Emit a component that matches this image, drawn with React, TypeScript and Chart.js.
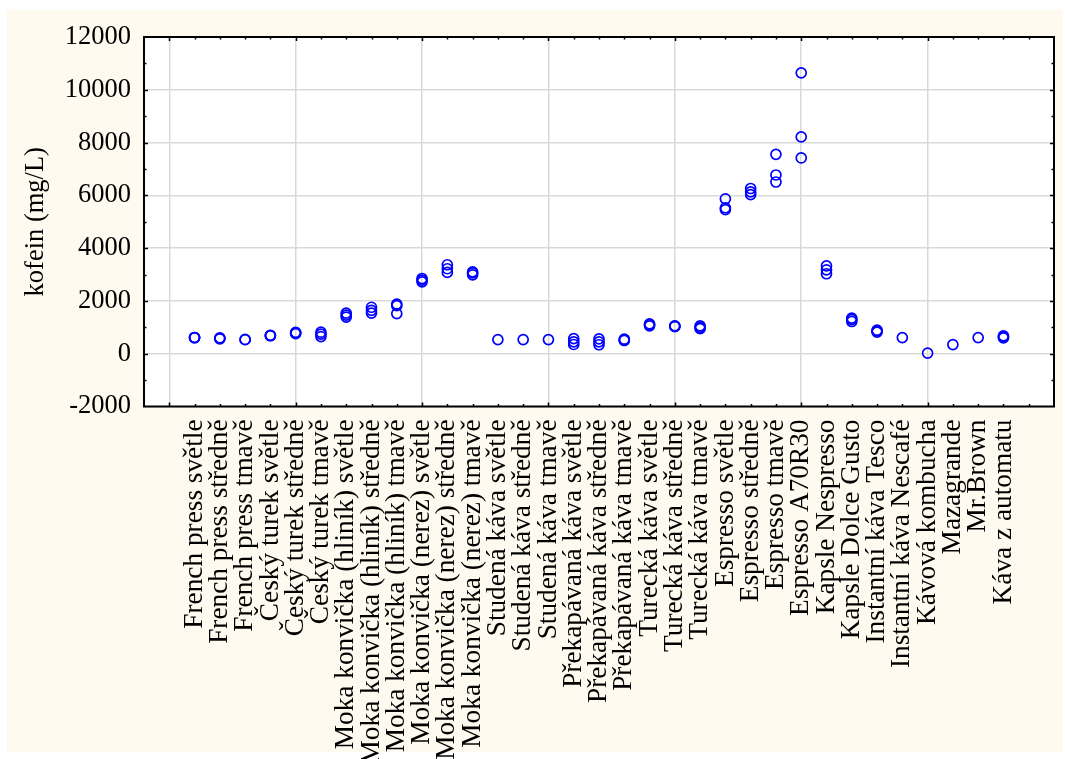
import React, { useEffect, useRef } from "react";
import { Chart, registerables } from "chart.js";

Chart.register(...registerables);

const categories: string[] = [
  "French press světle",
  "French press středně",
  "French press tmavě",
  "Český turek světle",
  "Český turek středně",
  "Český turek tmavě",
  "Moka konvička (hliník) světle",
  "Moka konvička (hliník) středně",
  "Moka konvička (hliník) tmavě",
  "Moka konvička (nerez) světle",
  "Moka konvička (nerez) středně",
  "Moka konvička (nerez) tmavě",
  "Studená káva světle",
  "Studená káva středně",
  "Studená káva tmavě",
  "Překapávaná káva světle",
  "Překapávaná káva středně",
  "Překapávaná káva tmavě",
  "Turecká káva světle",
  "Turecká káva středně",
  "Turecká káva tmavě",
  "Espresso světle",
  "Espresso středně",
  "Espresso tmavě",
  "Espresso A70R30",
  "Kapsle Nespresso",
  "Kapsle Dolce Gusto",
  "Instantní káva Tesco",
  "Instantní káva Nescafé",
  "Kávová kombucha",
  "Mazagrande",
  "Mr.Brown",
  "Káva z automatu",
];

// caffeine (mg/L), replicate measurements per category
const caffeine: number[][] = [
  [605, 610, 615],
  [565, 585, 600],
  [530, 540],
  [680, 690, 695],
  [760, 790, 810],
  [650, 740, 815],
  [1390, 1460, 1540],
  [1540, 1640, 1760],
  [1520, 1820, 1880],
  [2720, 2790, 2850],
  [3080, 3220, 3370],
  [2990, 3060, 3100],
  [535],
  [535],
  [535],
  [350, 450, 570],
  [340, 450, 560],
  [500, 530, 550],
  [1055, 1100, 1130],
  [1030, 1045, 1055],
  [950, 1000, 1055],
  [5460, 5530, 5870],
  [6030, 6130, 6260],
  [6506, 6772, 7554],
  [7417, 8214, 10642],
  [3030, 3180, 3330],
  [1220, 1290, 1350],
  [815, 860, 890],
  [611],
  [20],
  [345],
  [611],
  [600, 640, 675],
];

const yMin = -2000;
const yMax = 12000;
const yStep = 2000;
const yMinorStep = 1000;
const xMin = -1;
const xMax = 35;
const xGridEvery = 5;

const FONT = "'Liberation Serif', 'Times New Roman', Times, serif";
const CREAM = "#fefaef";
const GRID = "#d9d9d9";
const BLUE = "#0000ff";

const framePlugin = {
  id: "frame",
  beforeDraw(chart: any) {
    const { ctx, chartArea: a } = chart;
    ctx.save();
    ctx.fillStyle = "#ffffff";
    ctx.fillRect(0, 0, chart.width, chart.height);
    ctx.fillStyle = CREAM;
    ctx.fillRect(7, 10, chart.width - 9, chart.height - 17);
    ctx.fillStyle = "#ffffff";
    ctx.fillRect(a.left, a.top, a.right - a.left, a.bottom - a.top);
    ctx.restore();
  },
  afterDraw(chart: any) {
    const { ctx, chartArea: a } = chart;
    const xs = chart.scales.x;
    const ys = chart.scales.y;
    ctx.save();
    ctx.strokeStyle = "#000000";
    ctx.lineWidth = 1.5;
    ctx.beginPath();
    for (let v = xMin + 1; v < xMax; v++) {
      const px = Math.round(xs.getPixelForValue(v)) + 0.5;
      const len = v % xGridEvery === 0 ? 4 : 2.5;
      ctx.moveTo(px, a.bottom);
      ctx.lineTo(px, a.bottom - len);
      ctx.moveTo(px, a.top);
      ctx.lineTo(px, a.top + len);
    }
    for (let v = yMin + yMinorStep; v < yMax; v += yMinorStep) {
      const py = Math.round(ys.getPixelForValue(v)) + 0.5;
      const len = v % yStep === 0 ? 4 : 2.5;
      ctx.moveTo(a.left, py);
      ctx.lineTo(a.left + len, py);
      ctx.moveTo(a.right, py);
      ctx.lineTo(a.right - len, py);
    }
    ctx.stroke();
    ctx.lineWidth = 2;
    ctx.strokeRect(a.left, a.top, a.right - a.left, a.bottom - a.top);
    ctx.restore();
  },
};

export default function App() {
  const canvasRef = useRef<HTMLCanvasElement | null>(null);

  useEffect(() => {
    const canvas = canvasRef.current;
    if (!canvas) return;
    const points = caffeine.flatMap((vals, i) =>
      vals.map((v) => ({ x: i + 1, y: v }))
    );
    const chart = new Chart(canvas, {
      type: "scatter",
      data: {
        datasets: [
          {
            data: points,
            pointStyle: "circle",
            pointRadius: 5,
            pointBorderWidth: 1.7,
            borderColor: BLUE,
            backgroundColor: "rgba(0,0,0,0)",
            pointBackgroundColor: "rgba(0,0,0,0)",
            pointBorderColor: BLUE,
          },
        ],
      },
      options: {
        responsive: false,
        animation: false,
        devicePixelRatio: 1,
        layout: { padding: { left: 0, top: 37, right: 11, bottom: 0 } },
        plugins: {
          legend: { display: false },
          tooltip: { enabled: false },
        },
        scales: {
          x: {
            type: "linear",
            position: "bottom",
            min: xMin,
            max: xMax,
            afterBuildTicks: (scale: any) => {
              const t: any[] = [];
              for (let v = 0; v <= categories.length; v++) t.push({ value: v });
              scale.ticks = t;
            },
            afterFit: (scale: any) => {
              scale.height = 352.5;
            },
            border: { display: false },
            grid: {
              drawTicks: false,
              lineWidth: 1.5,
              color: (ctx: any) =>
                ctx.tick && ctx.tick.value % xGridEvery === 0 ? GRID : "rgba(0,0,0,0)",
            },
            ticks: {
              autoSkip: false,
              maxRotation: 90,
              minRotation: 90,
              padding: 13,
              color: "#000000",
              font: { family: FONT, size: 27.3 },
              callback: (value: any) => {
                const i = Number(value);
                return i >= 1 && i <= categories.length ? categories[i - 1] : "";
              },
            },
          },
          y: {
            type: "linear",
            position: "left",
            min: yMin,
            max: yMax,
            afterFit: (scale: any) => {
              scale.width = 144;
            },
            border: { display: false },
            grid: { drawTicks: false, color: GRID, lineWidth: 1.5 },
            ticks: {
              stepSize: yStep,
              padding: 13,
              color: "#000000",
              font: { family: FONT, size: 26.5 },
              callback: (value: any) => String(value),
            },
            title: {
              display: true,
              text: "kofein (mg/L)",
              color: "#000000",
              font: { family: FONT, size: 26.5 },
              padding: { top: 20, bottom: 0 },
            },
          },
        },
      },
      plugins: [framePlugin],
    });
    return () => chart.destroy();
  }, []);

  return (
    <div style={{ position: "fixed", left: 0, top: 0, width: 1065, height: 759 }}>
      <canvas ref={canvasRef} width={1065} height={759} style={{ display: "block" }} />
    </div>
  );
}
